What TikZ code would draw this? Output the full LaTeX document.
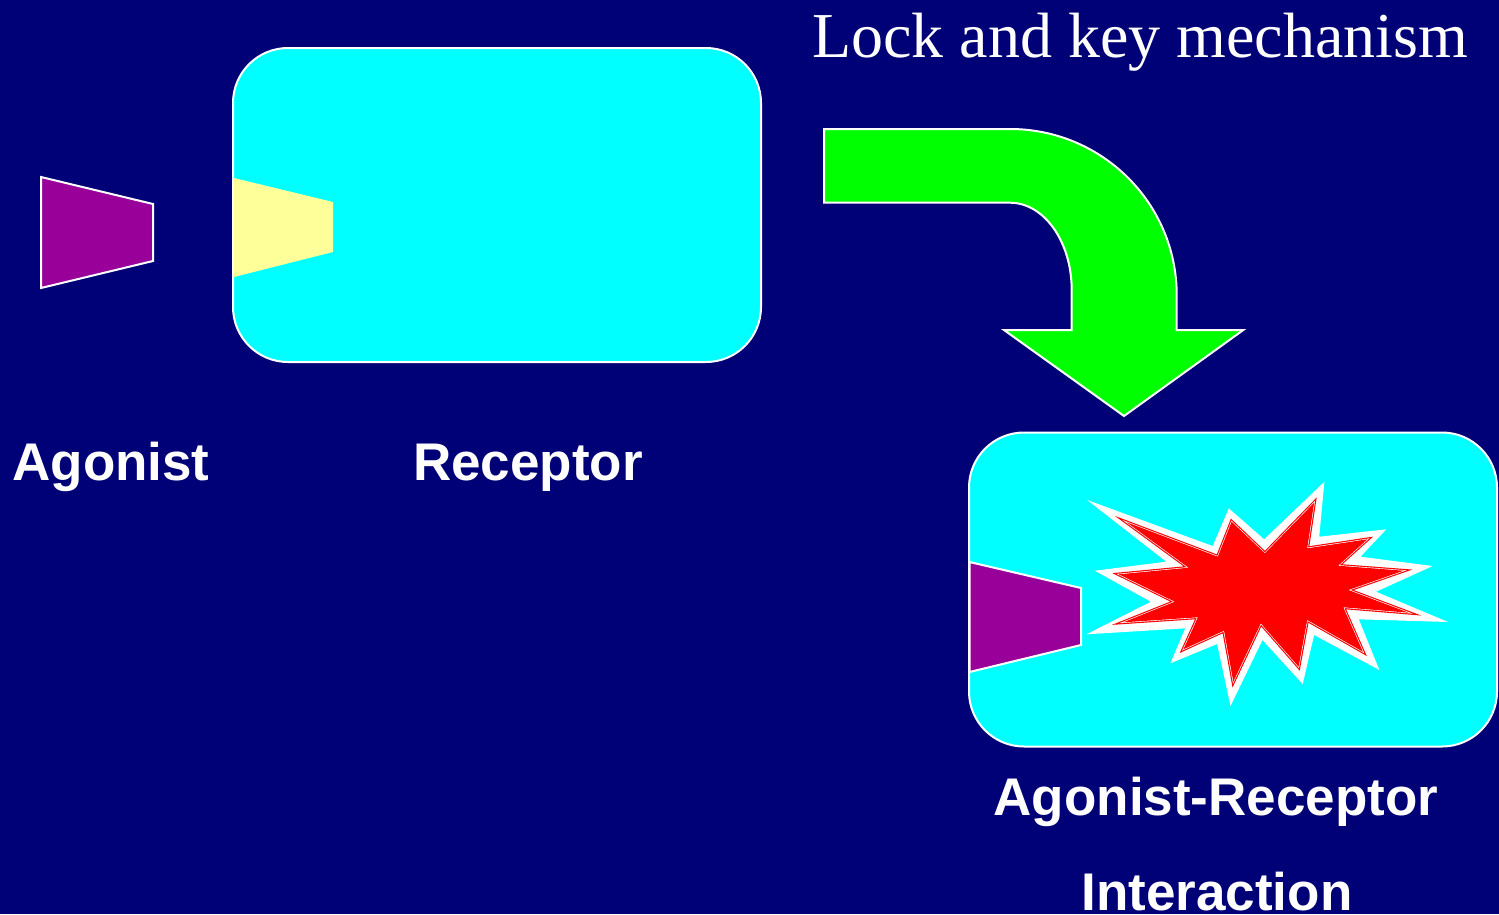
\documentclass[tikz,border=0pt]{standalone}
\usepackage{fontspec}
\setmainfont{Liberation Serif}
\newfontfamily\labelfont{Liberation Sans}
\definecolor{navy}{RGB}{0,0,119}
\definecolor{cellcyan}{RGB}{0,255,255}
\definecolor{agonistpurple}{RGB}{153,0,153}
\definecolor{sitevellow}{RGB}{255,255,153}
\definecolor{arrowgreen}{RGB}{0,255,0}
\definecolor{burstred}{RGB}{255,0,0}
\tikzset{
  cellbox/.style={draw=white, line width=2pt, fill=cellcyan, rounded corners=55pt,
    minimum width=528pt, minimum height=314pt, inner sep=0pt},
  keyshape/.style={draw=white, line width=2pt, fill=agonistpurple, line join=miter},
  caption/.style={text=white, font=\labelfont\bfseries\fontsize{53}{60}\selectfont,
    anchor=base, inner sep=0pt},
  title/.style={text=white, font=\fontsize{64}{72}\selectfont, anchor=base, inner sep=0pt}
}
\begin{document}
\begin{tikzpicture}[x=1pt,y=-1pt]
  % canvas
  \fill[navy] (0,0) rectangle (1499,914);
  \useasboundingbox (0,0) rectangle (1499,914);

  % free agonist
  \draw[keyshape] (41,177) -- (153,204) -- (153,261) -- (41,288) -- cycle;

  % receptor with its empty binding site
  \node[cellbox] (receptor) at (497,205) {};
  \fill[sitevellow] (234,178) -- (333,202) -- (333,252) -- (234,277) -- cycle;
  \draw[white, line width=2pt] (233,150) -- (233,300);

  % bent arrow
  \draw[white, line width=2pt, fill=arrowgreen, line join=miter]
    (824,129) -- (1010,129)
    .. controls (1102,129) and (1176.7,203.3) .. (1176.7,295)
    -- (1176.7,330) -- (1243.3,330) -- (1124,416) -- (1004,330) -- (1071.7,330)
    -- (1071.7,290)
    .. controls (1071.7,241.8) and (1044.1,202.7) .. (1010,202.7)
    -- (824,202.7) -- cycle;

  % bound complex
  \node[cellbox] (complex) at (1233,589.5) {};
  \draw[keyshape] (969.5,562) -- (1081,588) -- (1081,645) -- (969.5,672) -- cycle;

  % burst: white halo, then red star with red/white rim
  \fill[white]
    (1087.2,500) -- (1212.7,546) -- (1228.8,508.3) -- (1264.2,539.3)
    -- (1324.4,481.7) -- (1319.2,536.7) -- (1386.3,529.3) -- (1360.5,556.7)
    -- (1432.7,566) -- (1376,591.7) -- (1448.1,622) -- (1358.8,619.3)
    -- (1379.4,670) -- (1314.1,635) -- (1302.7,684) -- (1262.5,640)
    -- (1230.5,706) -- (1217.1,644) -- (1170.4,663.3) -- (1185.2,628.3)
    -- (1086.5,634.3) -- (1150.8,601.7) -- (1094.8,570.7) -- (1166.3,561.7) -- cycle;
  \path[fill=burstred, draw=burstred, line width=3.6pt, line join=miter,
        postaction={draw=white, line width=1.3pt}]
    (1126.7,522.3) -- (1217.8,556.7) -- (1231.6,521.7) -- (1264.9,553.3)
    -- (1314.1,502.7) -- (1307.2,548.3) -- (1367.4,539.3) -- (1338.1,565.7)
    -- (1403.5,570.7) -- (1348.4,590) -- (1408.6,612.7) -- (1343.3,607.3)
    -- (1362.9,651.7) -- (1307.2,620) -- (1298.6,666.7) -- (1260.8,623.3)
    -- (1233.3,681.7) -- (1224,630.7) -- (1183.4,649.3) -- (1197.9,617.3)
    -- (1123.3,622.3) -- (1174.8,601.7) -- (1118.8,574.3) -- (1188.6,567.7) -- cycle;
  \fill[burstred]
    (1126.7,522.3) -- (1217.8,556.7) -- (1231.6,521.7) -- (1264.9,553.3)
    -- (1314.1,502.7) -- (1307.2,548.3) -- (1367.4,539.3) -- (1338.1,565.7)
    -- (1403.5,570.7) -- (1348.4,590) -- (1408.6,612.7) -- (1343.3,607.3)
    -- (1362.9,651.7) -- (1307.2,620) -- (1298.6,666.7) -- (1260.8,623.3)
    -- (1233.3,681.7) -- (1224,630.7) -- (1183.4,649.3) -- (1197.9,617.3)
    -- (1123.3,622.3) -- (1174.8,601.7) -- (1118.8,574.3) -- (1188.6,567.7) -- cycle;

  % labels
  \node[title] (heading) at (1140,57) {Lock and key mechanism};
  \node[caption] (agonistlabel) at (111,480) {Agonist};
  \node[caption] (receptorlabel) at (528,480) {Receptor};
  \node[caption] (complexlabel) at (1216,815) {Agonist-Receptor};
  \node[caption] (interactionlabel) at (1217,910) {Interaction};
\end{tikzpicture}
\end{document}
